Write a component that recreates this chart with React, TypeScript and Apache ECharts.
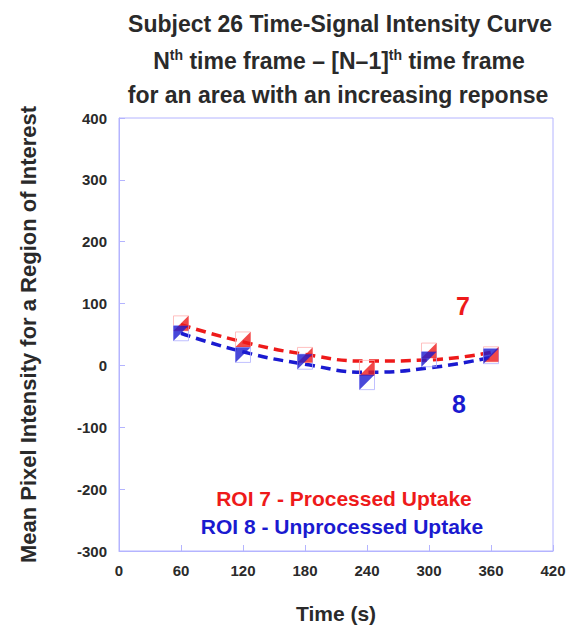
import React, { useEffect, useRef } from "react";
import * as echarts from "echarts";

const times = [60, 120, 180, 240, 300, 360];
const roi7Points = [68, 42, 17, -4, 24, 18];
const roi8Points = [52, 17, 6, -27, 10, 15];
const roi7Fit = [66, 38, 18, 7, 9, 21];
const roi8Fit = [52, 22, 2, -11, -4, 13];
const yTicks = [-300, -200, -100, 0, 100, 200, 300, 400];
const xTicks = [0, 60, 120, 180, 240, 300, 360, 420];

const RED = "#ee1a1a";
const BLUE = "#1a1ad0";
const FONT = "Liberation Sans, Arial, sans-serif";
const DARK = "#2a2a2a";

export default function App() {
  const ref = useRef<HTMLDivElement>(null);
  useEffect(() => {
    const chart = echarts.init(ref.current!, null, { renderer: "svg" });
    const pair = (ys: number[]) => times.map((t, i) => [t, ys[i]]);
    chart.setOption({
      animation: false,
      backgroundColor: "#ffffff",
      textStyle: { fontFamily: FONT },
      grid: { left: 119, right: 22, top: 118, bottom: 77, show: true, borderColor: "#b4b4ff", borderWidth: 1 },
      title: [
        {
          text: "Subject 26 Time-Signal Intensity Curve",
          left: 335, top: 7, textAlign: "center",
          textStyle: { fontFamily: FONT, fontSize: 23, fontWeight: "bold", color: DARK },
        },
        {
          text: "{n|N}{s|th}{n| time frame – [N–1]}{s|th}{n| time frame}",
          left: 334, top: 43, textAlign: "center",
          textStyle: {
            rich: {
              n: { fontFamily: FONT, fontSize: 23, fontWeight: "bold", color: DARK, verticalAlign: "bottom" },
              s: { fontFamily: FONT, fontSize: 14, fontWeight: "bold", color: DARK, verticalAlign: "top", padding: [0, 0, 10, 0] },
            },
          },
        },
        {
          text: "for an area with an increasing reponse",
          left: 333, top: 78, textAlign: "center",
          textStyle: { fontFamily: FONT, fontSize: 23, fontWeight: "bold", color: DARK },
        },
      ],
      xAxis: {
        type: "value", min: 0, max: 420, interval: 60,
        name: "Time (s)", nameLocation: "middle", nameGap: 52,
        nameTextStyle: { fontFamily: FONT, fontSize: 21, fontWeight: "bold", color: DARK },
        axisLine: { show: true, onZero: false, lineStyle: { color: "#b4b4ff" } },
        axisTick: { show: true, inside: true, length: 6, lineStyle: { color: "#b4b4ff" } },
        splitLine: { show: false },
        axisLabel: { fontFamily: FONT, fontSize: 15, fontWeight: "bold", color: DARK, margin: 12, showMaxLabel: true, formatter: (v: number) => (xTicks.includes(v) ? String(v) : "") },
      },
      yAxis: {
        type: "value", min: -300, max: 400, interval: 100,
        name: "Mean Pixel Intensity for a Region of Interest", nameLocation: "middle", nameGap: 80, nameRotate: 90,
        nameTextStyle: { fontFamily: FONT, fontSize: 22, fontWeight: "bold", color: DARK },
        axisLine: { show: true, onZero: false, lineStyle: { color: "#b4b4ff" } },
        axisTick: { show: true, inside: true, length: 6, lineStyle: { color: "#b4b4ff" } },
        splitLine: { show: false },
        axisLabel: { fontFamily: FONT, fontSize: 15, fontWeight: "bold", color: DARK, margin: 12, formatter: (v: number) => (yTicks.includes(v) ? String(v) : "") },
      },
      series: [
        {
          type: "line", data: pair(roi7Fit), smooth: true, showSymbol: false, symbol: "none",
          lineStyle: { color: RED, width: 3.5, type: [10, 6] }, z: 2,
        },
        {
          type: "line", data: pair(roi8Fit), smooth: true, showSymbol: false, symbol: "none",
          lineStyle: { color: BLUE, width: 3.5, type: [10, 6] }, z: 2,
        },
        {
          type: "scatter", data: pair(roi7Points), symbol: "rect", symbolSize: 15,
          itemStyle: { color: "rgba(255,255,255,0)", borderColor: "#ffb0b0", borderWidth: 1 }, z: 3,
        },
        {
          type: "scatter", data: pair(roi7Points), symbol: "path://M0,10 L10,0 L10,10 Z", symbolSize: 15,
          itemStyle: { color: RED }, z: 4,
        },
        {
          type: "scatter", data: pair(roi8Points), symbol: "rect", symbolSize: 15,
          itemStyle: { color: "rgba(255,255,255,0)", borderColor: "#b0b0ff", borderWidth: 1 }, z: 3,
        },
        {
          type: "scatter", data: pair(roi8Points), symbol: "path://M0,0 L10,0 L0,10 Z", symbolSize: 15,
          itemStyle: { color: BLUE }, z: 4,
        },
      ],
      graphic: [
        { type: "text", x: 463, y: 306, style: { text: "7", fontFamily: FONT, fontSize: 25, fontWeight: "bold", fill: RED, align: "center", verticalAlign: "middle" } },
        { type: "text", x: 459, y: 404, style: { text: "8", fontFamily: FONT, fontSize: 25, fontWeight: "bold", fill: BLUE, align: "center", verticalAlign: "middle" } },
        { type: "text", x: 344, y: 498, style: { text: "ROI 7 - Processed Uptake", fontFamily: FONT, fontSize: 21, fontWeight: "bold", fill: RED, align: "center", verticalAlign: "middle" } },
        { type: "text", x: 342, y: 526, style: { text: "ROI 8 - Unprocessed Uptake", fontFamily: FONT, fontSize: 21, fontWeight: "bold", fill: BLUE, align: "center", verticalAlign: "middle" } },
      ],
    });
    return () => chart.dispose();
  }, []);
  return <div ref={ref} style={{ position: "absolute", left: 0, top: 0, width: 575, height: 629 }} />;
}
